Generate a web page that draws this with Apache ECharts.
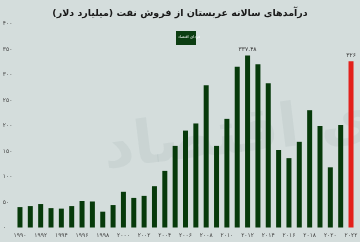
<!DOCTYPE html>
<html><head><meta charset="utf-8">
<script src="https://cdn.jsdelivr.net/npm/echarts@6/dist/echarts.min.js"></script>
<style>html,body{margin:0;padding:0;background:#d4dddc;}#c{width:360px;height:242px;}</style>
</head><body><div id="c"></div>
<script>
const years = [1990,1991,1992,1993,1994,1995,1996,1997,1998,1999,2000,2001,2002,2003,2004,2005,2006,2007,2008,2009,2010,2011,2012,2013,2014,2015,2016,2017,2018,2019,2020,2021,2022];
const revenue = [40,42,46,38,37,42,52,51,31,44,70,58,62,81,111,160,190,204,279,160,213,315,337.48,320,283,152,136,168,230,199,118,201,326];
const labeledYears = [2012, 2022];
const title = 'درآمدهای سالانه عربستان از فروش نفت (میلیارد دلار)';
const logoText = 'فردای اقتصاد';

const fa = s => String(s).replace(/[0-9]/g, d => '۰۱۲۳۴۵۶۷۸۹'[d]);
const FONT = 'DejaVu Sans';

const chart = echarts.init(document.getElementById('c'), null, {renderer:'canvas'});
chart.setOption({
  backgroundColor: '#d4dddc',
  animation: false,
  title: {
    text: title, left: 'center', top: 4,
    textStyle: {fontFamily: FONT, fontSize: 9.5, fontWeight: 'bold', color: '#1a1a1a'}
  },
  graphic: [
    {type:'text', left: 100, top: 75, z: 0, rotation: 0.12,
     style:{text: logoText, font: 'bold 60px "DejaVu Sans"', fill: 'rgba(150,170,165,0.16)'}},
    {type:'rect', left: 176, top: 31, z: 10, shape:{width: 20, height: 14}, style:{fill:'#0c3d12'}},
    {type:'text', left: 178, top: 35, z: 11, style:{text: logoText, font: '4px "DejaVu Sans"', fill:'#ffffff'}}
  ],
  grid: {left: 14.8, right: 3.8, top: 23.5, bottom: 14.5, outerBoundsMode: 'none'},
  xAxis: {
    type: 'category', data: years,
    axisLine: {show: false}, axisTick: {show: false},
    axisLabel: {interval: 1, formatter: v => fa(v), fontFamily: FONT, fontSize: 6, color: '#444', margin: 5}
  },
  yAxis: {
    type: 'value', min: 0, max: 400, interval: 50,
    splitLine: {show: false}, axisLine: {show: false}, axisTick: {show: false},
    axisLabel: {showMaxLabel: true, showMinLabel: true, hideOverlap: false,
      formatter: v => fa(v), fontFamily: FONT, fontSize: 6, color: '#444', align: 'left', margin: 12}
  },
  series: [{
    type: 'bar', barWidth: 5,
    data: revenue.map((v, i) => ({
      value: v,
      itemStyle: {color: years[i] === 2022 ? '#e3211c' : '#073a0b'},
      label: {show: labeledYears.includes(years[i]), position: 'top', distance: 3,
        formatter: p => fa(p.value), fontFamily: FONT, fontSize: 6, color: '#333'}
    }))
  }]
});
</script></body></html>
